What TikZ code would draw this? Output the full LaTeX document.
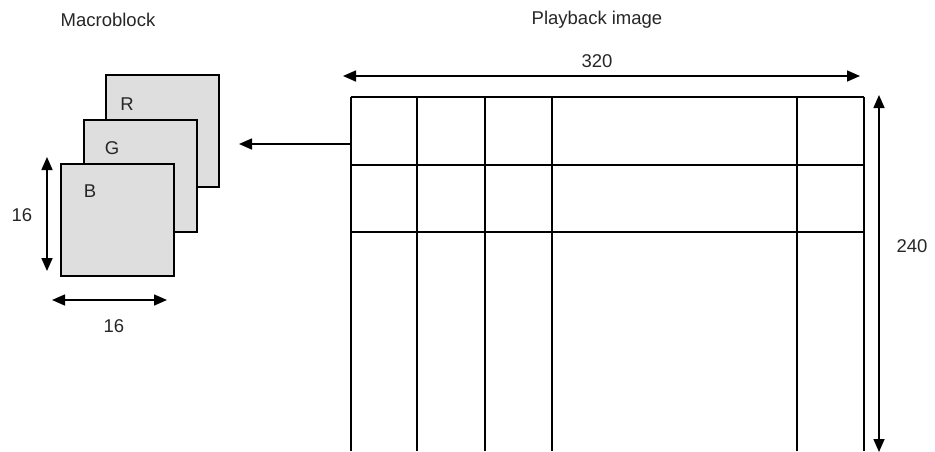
\documentclass[tikz,border=0pt]{standalone}
\usepackage{fontspec}
\setmainfont{Liberation Sans}
\usetikzlibrary{positioning,arrows.meta}

\tikzset{
  plane/.style={draw, line width=1.6pt, fill=black!13, minimum width=113pt, minimum height=112pt, inner sep=0pt},
  chan/.style={anchor=base, text=black!85, font=\fontsize{18.5}{18.5}\selectfont},
  caption/.style={text=black!85, font=\fontsize{18.5}{18.5}\selectfont},
  dimarrow/.style={line width=1.6pt, {Triangle[length=13pt,width=11pt]}-{Triangle[length=13pt,width=11pt]}},
  gridline/.style={line width=1.5pt}
}

\begin{document}
\begin{tikzpicture}[x=1pt, y=-1pt]
        \useasboundingbox (0,0) rectangle (935,451);

        % Draw the three colour planes, back to front
        \node[plane, anchor=north west] (planeR) at (105,74) {};
        \node[plane, anchor=north west] (planeG) at (83,119) {};
        \node[plane, anchor=north west] (planeB) at (60,163) {};
        \node[chan] (lblR) at (127,110) {R};
        \node[chan] (lblG) at (112,154) {G};
        \node[chan] (lblB) at (90,197) {B};

        % Macroblock size
        \coordinate (mbTop) at (47,157);
        \coordinate (mbBot) at (47,271);
        \draw[dimarrow] (mbTop) -- (mbBot);
        \node[caption] (mbHeight) at (22,215) {16};
        \coordinate (mbLeft) at (52,300);
        \coordinate (mbRight) at (167,300);
        \draw[dimarrow] (mbLeft) -- (mbRight);
        \node[caption] (mbWidth) at (114,326) {16};
        \node[caption] (mbTitle) at (108,20) {Macroblock};

        % Draw the playback image grid
        \foreach \x in {351,417,485,552,797,864}
            \draw[gridline] (\x,97) -- (\x,451);
        \foreach \y in {97,165,232}
            \draw[gridline] (351,\y) -- (864,\y);

        % Arrow from the image to the macroblock
        \coordinate (imgEdge) at (351,144);
        \coordinate (mbIn) at (239,144);
        \draw[line width=1.6pt, -{Triangle[length=13pt,width=11pt]}] (imgEdge) -- (mbIn);

        % Image size
        \coordinate (imgLeft) at (343,76);
        \coordinate (imgRight) at (860,76);
        \draw[dimarrow] (imgLeft) -- (imgRight);
        \node[caption] (imgWidth) at (597,61) {320};
        \coordinate (imgTop) at (879,95);
        \coordinate (imgBot) at (879,452);
        \draw[dimarrow] (imgTop) -- (imgBot);
        \node[caption] (imgHeight) at (912,246) {240};
        \node[caption] (imgTitle) at (597,20) {Playback image};
\end{tikzpicture}
\end{document}
